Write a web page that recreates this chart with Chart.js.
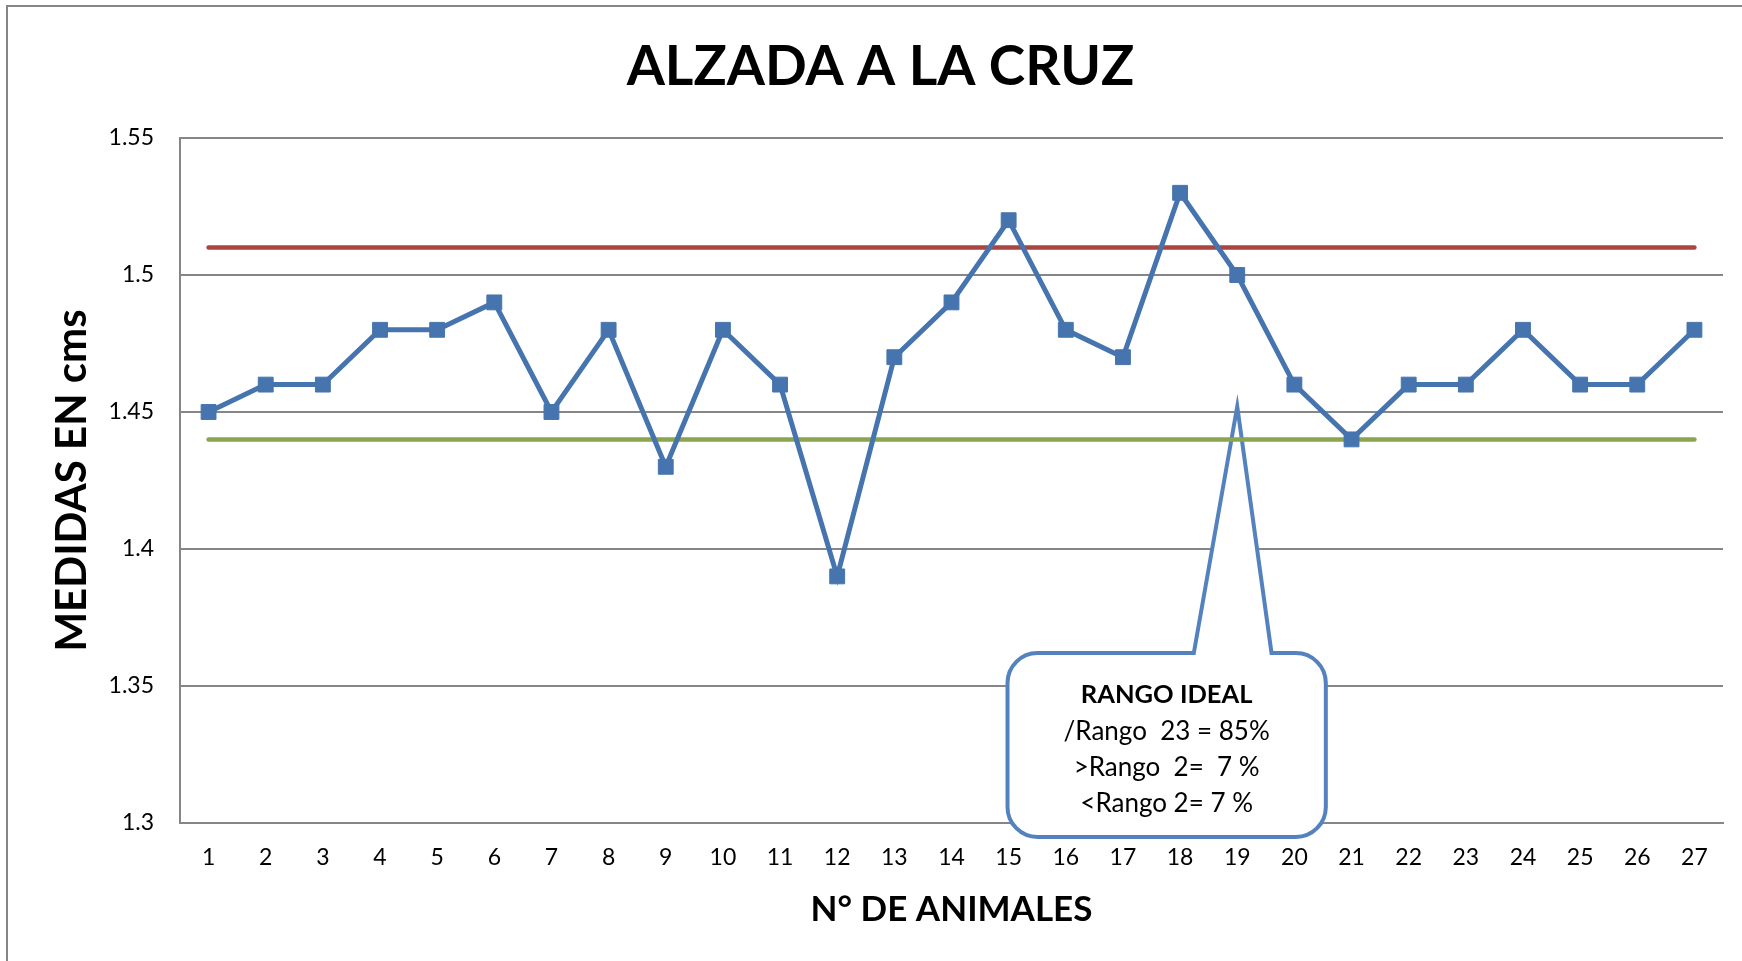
<!DOCTYPE html>
<html>
<head>
<meta charset="utf-8">
<script src="https://cdn.jsdelivr.net/npm/chart.js@4.4.0/dist/chart.umd.min.js"></script>
<style>
body { margin: 0; background: #ffffff; }
#wrap { width: 1742px; height: 961px; }
</style>
</head>
<body>
<div id="wrap"><canvas id="myCanvas" width="1742" height="961"></canvas></div>
<script>
// datos
var animales = ['1','2','3','4','5','6','7','8','9','10','11','12','13','14','15','16','17','18','19','20','21','22','23','24','25','26','27'];
var alzada = [1.45,1.46,1.46,1.48,1.48,1.49,1.45,1.48,1.43,1.48,1.46,1.39,1.47,1.49,1.52,1.48,1.47,1.53,1.50,1.46,1.44,1.46,1.46,1.48,1.46,1.46,1.48];
var limiteSup = [1.51,1.51,1.51,1.51,1.51,1.51,1.51,1.51,1.51,1.51,1.51,1.51,1.51,1.51,1.51,1.51,1.51,1.51,1.51,1.51,1.51,1.51,1.51,1.51,1.51,1.51,1.51];
var limiteInf = [1.44,1.44,1.44,1.44,1.44,1.44,1.44,1.44,1.44,1.44,1.44,1.44,1.44,1.44,1.44,1.44,1.44,1.44,1.44,1.44,1.44,1.44,1.44,1.44,1.44,1.44,1.44];
var yTicks = ['1.3','1.35','1.4','1.45','1.5','1.55'];
var notaTitulo = 'RANGO IDEAL';
var notaLineas = ['/Rango  23 = 85%', '>Rango  2=  7 %', '<Rango 2= 7 %'];

var FONT = 'Lato, "Open Sans", sans-serif';

// marco exterior
var marco = {
	id: 'marco',
	beforeDraw: function(chart) {
		var ctx = chart.ctx;
		ctx.save();
		ctx.fillStyle = '#ffffff';
		ctx.fillRect(0, 0, chart.width, chart.height);
		ctx.strokeStyle = '#868686';
		ctx.lineWidth = 2;
		ctx.strokeRect(7, 6, chart.width + 20, chart.height + 20);
		ctx.restore();
	}
};

// globo de texto
var globo = {
	id: 'globo',
	beforeDatasetsDraw: function(chart) {
		var ctx = chart.ctx;
		var x = chart.scales.x, y = chart.scales.y;
		var L = x.getPixelForValue(13.98), R = x.getPixelForValue(19.55);
		var T = y.getPixelForValue(1.362), B = y.getPixelForValue(1.2949);
		var bl = x.getPixelForValue(17.24), br = x.getPixelForValue(18.6);
		var tx = x.getPixelForValue(18), ty = y.getPixelForValue(1.452);
		var r = 30;
		ctx.save();
		ctx.beginPath();
		ctx.moveTo(L + r, T);
		ctx.lineTo(bl, T);
		ctx.lineTo(tx, ty);
		ctx.lineTo(br, T);
		ctx.lineTo(R - r, T);
		ctx.arcTo(R, T, R, T + r, r);
		ctx.lineTo(R, B - r);
		ctx.arcTo(R, B, R - r, B, r);
		ctx.lineTo(L + r, B);
		ctx.arcTo(L, B, L, B - r, r);
		ctx.lineTo(L, T + r);
		ctx.arcTo(L, T, L + r, T, r);
		ctx.closePath();
		ctx.fillStyle = '#ffffff';
		ctx.fill();
		ctx.strokeStyle = '#5382BE';
		ctx.lineWidth = 4;
		ctx.lineJoin = 'miter';
		ctx.stroke();

		var cx = (L + R) / 2;
		ctx.fillStyle = '#000000';
		ctx.textAlign = 'center';
		ctx.textBaseline = 'middle';
		ctx.font = 'bold 25.5px ' + FONT;
		ctx.fillText(notaTitulo, cx, T + 42);
		ctx.font = '26px ' + FONT;
		for (var i = 0; i < notaLineas.length; i++) {
			ctx.fillText(notaLineas[i], cx, T + 42 + 36 * (i + 1));
		}
		ctx.restore();
	}
};

var ctx = document.getElementById('myCanvas').getContext('2d');
var myChart = new Chart(ctx, {
	type: 'line',
	data: {
		labels: animales,
		datasets: [{
			label: 'Alzada',
			data: alzada,
			borderColor: '#4674AE',
			backgroundColor: '#4674AE',
			borderWidth: 5,
			pointStyle: 'rect',
			pointRadius: 10.5,
			pointBorderWidth: 1,
			pointBackgroundColor: '#4674AE',
			pointBorderColor: '#4674AE',
			tension: 0,
			order: 0
		}, {
			label: 'Superior',
			data: limiteSup,
			borderColor: '#AA4542',
			borderWidth: 4.5,
			borderCapStyle: 'round',
			pointRadius: 0,
			order: 1
		}, {
			label: 'Inferior',
			data: limiteInf,
			borderColor: '#89A54E',
			borderWidth: 4.5,
			borderCapStyle: 'round',
			pointRadius: 0,
			order: 2
		}]
	},
	options: {
		responsive: false,
		animation: false,
		layout: { padding: { left: 38, right: 19, top: 0, bottom: 0 } },
		scales: {
			x: {
				offset: true,
				grid: { display: false, drawTicks: false },
				border: { display: true, color: '#868686', width: 2 },
				ticks: {
					color: '#000000',
					padding: 21,
					font: { family: FONT, size: 23 }
				},
				title: {
					display: true,
					text: 'N° DE ANIMALES',
					color: '#000000',
					font: { family: FONT, size: 35, weight: 'bold' },
					padding: { top: 0, bottom: 30 }
				},
				afterFit: function(s) { s.height = 138; }
			},
			y: {
				min: 1.3,
				max: 1.55,
				grid: { color: '#868686', lineWidth: 2, drawTicks: false },
				border: { display: true, color: '#868686', width: 2 },
				ticks: {
					stepSize: 0.05,
					color: '#000000',
					padding: 26,
					font: { family: FONT, size: 23 },
					callback: function(v, i) { return yTicks[i]; }
				},
				title: {
					display: true,
					text: 'MEDIDAS EN cms',
					color: '#000000',
					font: { family: FONT, size: 42, weight: 'bold' },
					padding: { top: 9, bottom: 0 }
				},
				afterFit: function(s) { s.width = 142; }
			}
		},
		plugins: {
			legend: { display: false },
			tooltip: { enabled: false },
			title: {
				display: true,
				text: 'ALZADA A LA CRUZ',
				color: '#000000',
				font: { family: FONT, size: 55, weight: 'bold' },
				padding: { top: 34, bottom: 38 }
			}
		}
	},
	plugins: [marco, globo]
});
</script>
</body>
</html>
